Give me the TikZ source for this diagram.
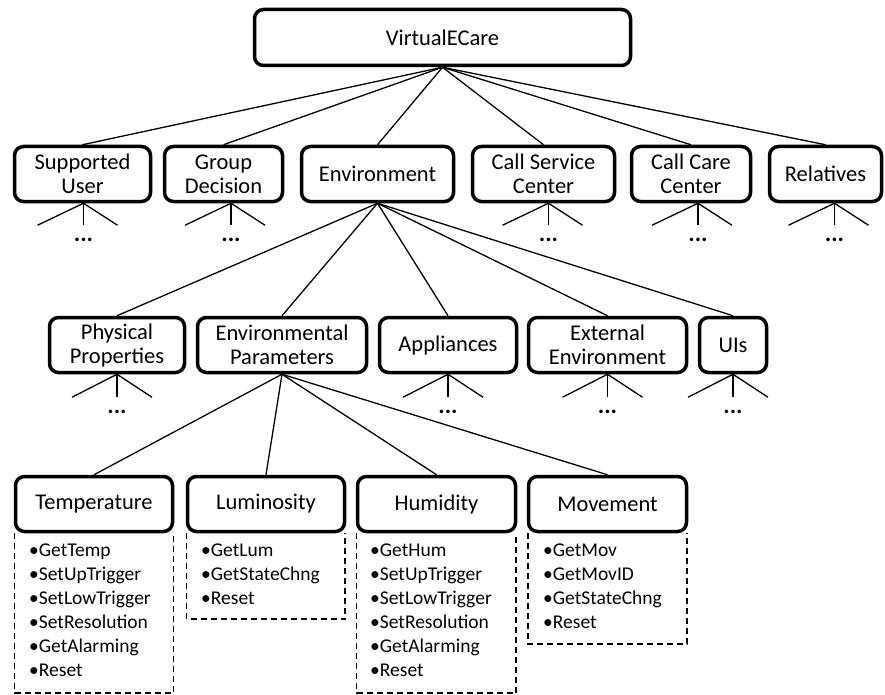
\documentclass[tikz,border=0pt]{standalone}
\usepackage{fontspec}
\setmainfont{Carlito}
\begin{document}
\begin{tikzpicture}[x=1pt,y=-1pt,
  box/.style={draw, line width=3.5pt, rounded corners=9pt, fill=white, align=center, inner sep=0pt, font=\fontsize{22.5}{24}\selectfont},
  conn/.style={line width=1.3pt},
  dashbox/.style={line width=1.4pt, dash pattern=on 6pt off 4pt},
  items/.style={anchor=north west, align=left, inner sep=0pt, font=\fontsize{19.5}{24}\selectfont},
  dots/.style={font=\fontsize{24}{24}\selectfont\bfseries, inner sep=0pt}
]
\useasboundingbox (0,0) rectangle (885,695);

% dashed method lists (drawn first, boxes cover their top ends)
\draw[dashbox] (14.5,533) |- (173.5,693) -- (173.5,533);
\draw[dashbox] (186.5,533) |- (345,619) -- (345,533);
\draw[dashbox] (356.5,533) |- (516,693) -- (516,533);
\draw[dashbox] (528,533) |- (687,644) -- (687,533);

% top
\node[box, minimum width=376pt, minimum height=56pt] (vec) at (442.5,37.5) {VirtualECare};

% row 2
\node[box, minimum width=136pt, minimum height=55pt] (su) at (82.5,174) {Supported\\User};
\node[box, minimum width=118pt, minimum height=55pt] (gd) at (223.5,174) {Group\\Decision};
\node[box, minimum width=152pt, minimum height=55pt] (env) at (377.5,174) {Environment};
\node[box, minimum width=142pt, minimum height=55pt] (csc) at (543.5,174) {Call Service\\Center};
\node[box, minimum width=119pt, minimum height=55pt] (ccc) at (691,174) {Call Care\\Center};
\node[box, minimum width=112pt, minimum height=55pt] (rel) at (825.5,174) {Relatives};

% row 3
\node[box, minimum width=135pt, minimum height=55pt] (pp) at (117,345) {Physical\\Properties};
\node[box, minimum width=169pt, minimum height=55pt] (ep) at (282,345) {Environmental\\Parameters};
\node[box, minimum width=137pt, minimum height=55pt] (app) at (448,345) {Appliances};
\node[box, minimum width=158pt, minimum height=55pt] (ee) at (607.5,345) {External\\Environment};
\node[box, minimum width=67pt, minimum height=55pt] (uis) at (733,345) {UIs};

% row 4
\node[box, minimum width=157pt, minimum height=55pt] (temp) at (94,504) {Temperature};
\node[box, minimum width=157pt, minimum height=55pt] (lum) at (266,504) {Luminosity};
\node[box, minimum width=158pt, minimum height=55pt] (hum) at (436.5,504) {Humidity};
\node[box, minimum width=158pt, minimum height=55pt] (mov) at (607.5,504) {Movement};

% method lists
\node[items] (tempL) at (29,544) {•GetTemp\\•SetUpTrigger\\•SetLowTrigger\\•SetResolution\\•GetAlarming\\•Reset};
\node[items] (lumL) at (201,544) {•GetLum\\•GetStateChng\\•Reset};
\node[items] (humL) at (370,544) {•GetHum\\•SetUpTrigger\\•SetLowTrigger\\•SetResolution\\•GetAlarming\\•Reset};
\node[items] (movL) at (543,544) {•GetMov\\•GetMovID\\•GetStateChng\\•Reset};

% connectors
\foreach \n in {su,gd,env,csc,ccc,rel} \draw[conn] (vec.south) -- (\n.north);
\foreach \n in {pp,ep,app,ee,uis} \draw[conn] (env.south) -- (\n.north);
\foreach \n in {temp,lum,hum,mov} \draw[conn] (ep.south) -- (\n.north);

% fans with dots (row 2)
\foreach \n/\dx in {su/1,gd/7.5,csc/5,ccc/7,rel/9} {
  \coordinate (\n F) at ([xshift=\dx pt]\n.south);
  \draw[conn] (\n F) -- ++(-46,22);
  \draw[conn] (\n F) -- ++(0,22);
  \draw[conn] (\n F) -- ++(34,22);
  \node[dots] (\n D) at ([yshift=-37pt]\n F) {...};
}
% fans with dots (row 3)
\foreach \n in {pp,app,ee,uis} {
  \coordinate (\n F) at (\n.south);
  \draw[conn] (\n F) -- ++(-45,23);
  \draw[conn] (\n F) -- ++(0,23);
  \draw[conn] (\n F) -- ++(35,23);
  \node[dots] (\n D) at ([yshift=-38pt]\n F) {...};
}
\end{tikzpicture}
\end{document}
